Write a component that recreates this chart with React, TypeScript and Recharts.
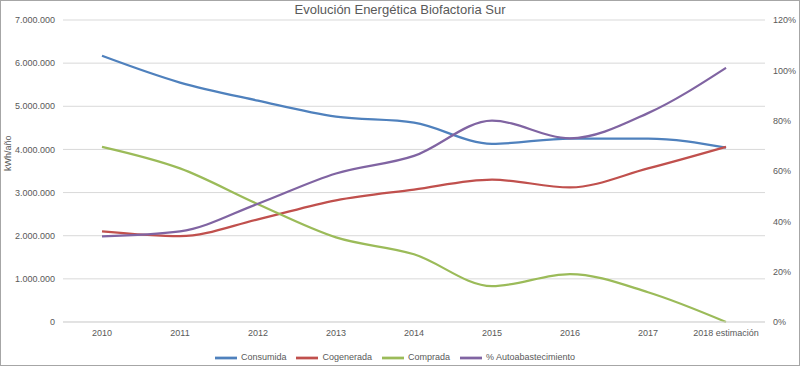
import { LineChart, Line, XAxis, YAxis, CartesianGrid, Legend } from "recharts";

const years = ["2010", "2011", "2012", "2013", "2014", "2015", "2016", "2017", "2018 estimación"];
const consumida = [6170000, 5550000, 5130000, 4760000, 4620000, 4130000, 4250000, 4250000, 4040000];
const cogenerada = [2100000, 1990000, 2380000, 2820000, 3070000, 3300000, 3120000, 3560000, 4060000];
const comprada = [4060000, 3560000, 2730000, 1960000, 1570000, 830000, 1110000, 690000, 0];
const autoabastecimiento = [0.34, 0.36, 0.47, 0.59, 0.66, 0.8, 0.73, 0.83, 1.01];

const leftTicks = [0, 1000000, 2000000, 3000000, 4000000, 5000000, 6000000, 7000000];
const rightTicks = [0, 0.2, 0.4, 0.6, 0.8, 1.0, 1.2];
const seriesOrder = ["consumida", "cogenerada", "comprada", "auto"];

const data = years.map((year, i) => ({
  year,
  consumida: consumida[i],
  cogenerada: cogenerada[i],
  comprada: comprada[i],
  auto: autoabastecimiento[i],
}));

const fmtThousands = (v: number) => String(v).replace(/\B(?=(\d{3})+(?!\d))/g, ".");
const fmtPct = (v: number) => `${Math.round(v * 100)}%`;

const grey = "#595959";
const tickStyle = { fontSize: 9, fill: grey };

export default function App() {
  return (
    <div
      style={{
        position: "absolute", left: 0, top: 0, width: 800, height: 366,
        boxSizing: "border-box", border: "1px solid #a6a6a6", background: "#fff",
        fontFamily: "'Liberation Sans', Arial, sans-serif",
      }}
    >
      <div style={{ position: "absolute", top: 1, left: 0, width: 798, textAlign: "center", fontSize: 13, color: grey }}>
        Evolución Energética Biofactoria Sur
      </div>
      <LineChart width={798} height={364} data={data} margin={{ top: 19, right: 0, left: 0, bottom: 0 }}>
        <CartesianGrid vertical={false} stroke="#d9d9d9" yAxisId="left" />
        <XAxis
          dataKey="year" tick={tickStyle} tickLine={false} axisLine={{ stroke: "#d9d9d9" }}
          height={25} interval={0} padding={{ left: 39, right: 39 }}
        />
        <YAxis
          yAxisId="left" domain={[0, 7000000]} ticks={leftTicks} tickFormatter={fmtThousands}
          tick={tickStyle} tickLine={false} axisLine={false} width={62}
          label={{ value: "kWh/año", angle: -90, position: "insideLeft", offset: 7, style: { fontSize: 9, fill: grey } }}
        />
        <YAxis
          yAxisId="right" orientation="right" domain={[0, 1.2]} ticks={rightTicks} tickFormatter={fmtPct}
          tick={tickStyle} tickLine={false} axisLine={false} width={34}
        />
        <Legend
          verticalAlign="bottom" height={18} iconType="plainline" iconSize={22}
          wrapperStyle={{ fontSize: 9 }}
          itemSorter={(item: any) => seriesOrder.indexOf(item.dataKey)}
          formatter={(value: string) => <span style={{ color: grey }}>{value}</span>}
        />
        <Line yAxisId="left" type="monotone" dataKey="consumida" name="Consumida" stroke="#4F81BD" strokeWidth={2.25} dot={false} isAnimationActive={false} />
        <Line yAxisId="left" type="monotone" dataKey="cogenerada" name="Cogenerada" stroke="#C0504D" strokeWidth={2.25} dot={false} isAnimationActive={false} />
        <Line yAxisId="left" type="monotone" dataKey="comprada" name="Comprada" stroke="#9BBB59" strokeWidth={2.25} dot={false} isAnimationActive={false} />
        <Line yAxisId="right" type="monotone" dataKey="auto" name="% Autoabastecimiento" stroke="#8064A2" strokeWidth={2.25} dot={false} isAnimationActive={false} />
      </LineChart>
    </div>
  );
}
